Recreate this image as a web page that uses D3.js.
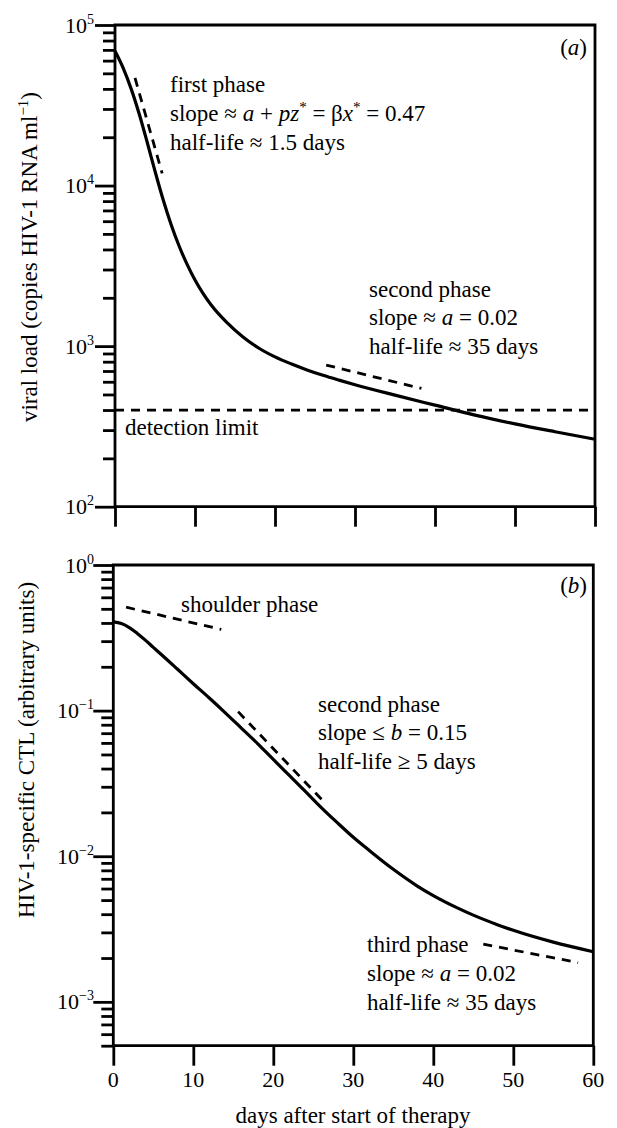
<!DOCTYPE html>
<meta charset="utf-8">
<style>
body { margin: 0; background: #fff; }
svg { display: block; }
text { font-family: "Liberation Serif", "Times New Roman", serif; fill: #000; }
.axis path { display: none; }
.axis line { stroke: #000; stroke-width: 2.8; }
.frame { stroke: #000; stroke-width: 2.8; fill: none; }
.curve { fill: none; stroke: #000; stroke-width: 3.2; }
.dash { fill: none; stroke: #000; stroke-width: 2.8; stroke-dasharray: 9,7; }
</style>
<svg width="617" height="1128"></svg>
<script src="https://cdn.jsdelivr.net/npm/d3@7"></script>
<script>

// panel (a): viral load
var viralDays = [0, 1, 2, 3, 4, 5, 6, 7, 8, 9, 10, 11, 12, 14, 16, 18, 20, 22, 24, 26, 28, 30, 35, 40, 45, 50, 55, 60];
var viralLoad = [68900, 54300, 40300, 28200, 18800, 12300, 8220, 5750, 4220, 3240, 2580, 2130, 1810,
                 1400, 1140, 970, 857, 776, 711, 658, 614, 575, 495, 429, 372, 328, 293, 263];
var viralFirstPhase = [[2.5, 46800], [5.9, 11900]];
var viralSecondPhase = [[26.4, 762], [38.3, 545]];
var detectionLimit = 400;

// panel (b): HIV-1-specific CTL
var ctlDays = [0, 1, 2, 3, 4, 5, 6, 8, 10, 12, 14, 16, 18, 20, 22, 24, 26, 28, 30, 32, 35, 38, 40, 43, 45, 48, 50, 55, 60];
var ctlLevel = [0.407, 0.396, 0.372, 0.339, 0.305, 0.272, 0.243, 0.193, 0.153, 0.122, 0.0966, 0.0759,
                0.0596, 0.0462, 0.0359, 0.0279, 0.0216, 0.0170, 0.0135, 0.01096, 0.00813, 0.00624,
                0.00537, 0.00442, 0.00394, 0.00339, 0.00310, 0.00257, 0.00221];
var ctlShoulder = [[1.6, 0.513], [13.5, 0.361]];
var ctlSecondPhase = [[15.6, 0.0984], [26.5, 0.0231]];
var ctlThirdPhase = [[46.25, 0.00249], [58.1, 0.00186]];

var dayTicks = [0, 10, 20, 30, 40, 50, 60];
var viralExponents = ["2", "3", "4", "5"];
var ctlExponents = ["\u22123", "\u22122", "\u22121", "0"];

var svg = d3.select("svg");

var xa = d3.scaleLinear().domain([0, 60]).range([115, 595]);
var ya = d3.scaleLog().domain([1e2, 1e5]).range([506.7, 25]);
var xb = d3.scaleLinear().domain([0, 60]).range([113.3, 593.3]);
var yb = d3.scaleLog().domain([5e-4, 1]).range([1045.7, 565]);

function minors(lo, hi) {
  var out = [];
  for (var e = lo; e < hi; e++)
    d3.range(2, 10).forEach(function(m) { out.push(m * Math.pow(10, e)); });
  return out;
}

// rich text: array of {t, i (italic), sup}
function rich(sel, parts, supSize) {
  var up = false;
  parts.forEach(function(p) {
    var ts = sel.append("tspan").text(p.t);
    if (p.i) ts.attr("font-style", "italic");
    if (p.sup) { ts.attr("font-size", supSize || 15).attr("dy", up ? 0 : -9); up = true; }
    else if (up) { ts.attr("dy", 9); up = false; }
  });
  return sel;
}

function panel(x, y, majors, minorVals, exps, days, vals, dashes, hline) {
  var x0 = x.range()[0], x1 = x.range()[1], y0 = y.range()[0], y1 = y.range()[1];

  svg.append("g").attr("class", "axis")
      .attr("transform", "translate(" + x0 + ",0)")
      .call(d3.axisLeft(y).tickValues(minorVals).tickSize(12).tickFormat(""));
  svg.append("g").attr("class", "axis")
      .attr("transform", "translate(" + x0 + ",0)")
      .call(d3.axisLeft(y).tickValues(majors).tickSize(20).tickFormat(""));
  svg.append("g").attr("class", "axis")
      .attr("transform", "translate(0," + y0 + ")")
      .call(d3.axisBottom(x).tickValues(dayTicks).tickSize(20).tickFormat(""));

  svg.append("path").attr("class", "frame")
      .attr("d", "M" + x0 + "," + y0 + "V" + y1 + "H" + x1 + "V" + y0 + "H" + x0);

  majors.forEach(function(v, i) {
    rich(svg.append("text")
        .attr("x", 94)
        .attr("y", y(v) + 7.5)
        .attr("text-anchor", "end")
        .attr("font-size", 22), [{t: "10"}, {t: exps[i], sup: 1}], 14);
  });

  if (hline) {
    svg.append("path").attr("class", "dash")
        .attr("d", "M" + x0 + "," + y(hline) + "H" + x1);
  }

  svg.append("path").attr("class", "curve")
      .attr("d", d3.line()
        .x(function(d, i) { return x(days[i]); })
        .y(function(d) { return y(d); })
        .curve(d3.curveMonotoneX)(vals));

  dashes.forEach(function(seg) {
    svg.append("path").attr("class", "dash")
        .attr("d", d3.line().x(function(d) { return x(d[0]); }).y(function(d) { return y(d[1]); })(seg));
  });
}

panel(xa, ya, [1e2, 1e3, 1e4, 1e5], minors(2, 5), viralExponents, viralDays, viralLoad,
      [viralFirstPhase, viralSecondPhase], detectionLimit);
panel(xb, yb, [1e-3, 1e-2, 1e-1, 1], [5e-4, 6e-4, 7e-4, 8e-4, 9e-4].concat(minors(-3, 0)),
      ctlExponents, ctlDays, ctlLevel, [ctlShoulder, ctlSecondPhase, ctlThirdPhase], null);

// x tick labels under (b)
svg.append("g").selectAll("text")
  .data(dayTicks)
  .enter().append("text")
    .attr("x", function(d) { return xb(d); })
    .attr("y", 1087)
    .attr("text-anchor", "middle")
    .attr("font-size", 22)
    .text(function(d) { return d; });

svg.append("text")
    .attr("x", 353).attr("y", 1123)
    .attr("text-anchor", "middle")
    .attr("font-size", 23)
    .text("days after start of therapy");

rich(svg.append("text")
    .attr("transform", "translate(37,257) rotate(-90)")
    .attr("text-anchor", "middle")
    .attr("font-size", 23),
  [{t: "viral load (copies HIV-1 RNA ml"}, {t: "\u22121", sup: 1}, {t: ")"}]);

svg.append("text")
    .attr("transform", "translate(34,750) rotate(-90)")
    .attr("text-anchor", "middle")
    .attr("font-size", 23)
    .text("HIV-1-specific CTL (arbitrary units)");

// panel labels
rich(svg.append("text").attr("x", 587).attr("y", 55).attr("text-anchor", "end").attr("font-size", 23),
  [{t: "("}, {t: "a", i: 1}, {t: ")"}]);
rich(svg.append("text").attr("x", 587).attr("y", 593).attr("text-anchor", "end").attr("font-size", 23),
  [{t: "("}, {t: "b", i: 1}, {t: ")"}]);

function note(x, y, lines) {
  lines.forEach(function(parts, i) {
    rich(svg.append("text").attr("x", x).attr("y", y[i]).attr("font-size", 23), parts);
  });
}

note(170, [92, 121, 150], [
  [{t: "first phase"}],
  [{t: "slope \u2248 "}, {t: "a", i: 1}, {t: " + "}, {t: "pz", i: 1}, {t: "*", sup: 1},
   {t: " = \u03b2"}, {t: "x", i: 1}, {t: "*", sup: 1}, {t: " = 0.47"}],
  [{t: "half-life \u2248 1.5 days"}]
]);

note(369, [297, 325, 354], [
  [{t: "second phase"}],
  [{t: "slope \u2248 "}, {t: "a", i: 1}, {t: " = 0.02"}],
  [{t: "half-life \u2248 35 days"}]
]);

note(125, [435], [[{t: "detection limit"}]]);

note(181, [612], [[{t: "shoulder phase"}]]);

note(318, [712, 740, 769], [
  [{t: "second phase"}],
  [{t: "slope \u2264 "}, {t: "b", i: 1}, {t: " = 0.15"}],
  [{t: "half-life \u2265 5 days"}]
]);

note(367, [952, 981, 1010], [
  [{t: "third phase"}],
  [{t: "slope \u2248 "}, {t: "a", i: 1}, {t: " = 0.02"}],
  [{t: "half-life \u2248 35 days"}]
]);

</script>
